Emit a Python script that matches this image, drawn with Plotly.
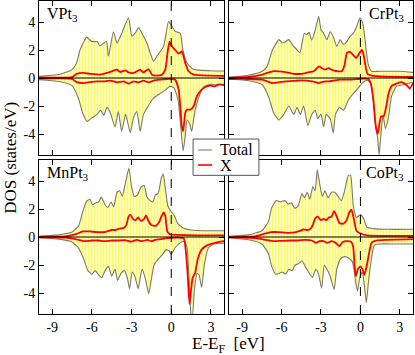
import plotly.graph_objects as go
from plotly.subplots import make_subplots

# ---- data (energy in eV, DOS in states/eV) ----
# VPt3
V_TOT_UP_E = [-10, -8.5, -7.5, -7.15, -6.9, -6.4, -6.0, -5.6, -5.4, -4.9, -4.75, -4.37, -4.1, -3.74, -3.23,
              -2.98, -2.73, -2.47, -2.22, -1.84, -1.34, -1.09, -0.58, -0.2, 0.05, 0.3, 0.68, 0.88, 1.19, 1.7, 2.95, 4]
V_TOT_UP = [0.12, 0.25, 0.6, 1.1, 2.0, 2.9, 2.6, 2.6, 2.3, 2.6, 1.55, 3.3, 2.5, 3.2, 4.3,
            3.0, 3.2, 3.6, 3.2, 2.5, 1.2, 1.55, 2.26, 4.05, 3.7, 3.33, 3.2, 2.0, 1.07, 0.6, 0.52, 0.5]
V_TOT_DN_E = [-10, -8.5, -7.5, -7.0, -6.7, -6.35, -6.0, -5.6, -5.35, -5.1, -4.85, -4.6, -4.25, -4.0, -3.75,
              -3.45, -3.1, -2.85, -2.6, -2.35, -2.1, -1.8, -1.4, -1.0, -0.5, -0.1, 0.2, 0.5, 0.7, 0.9,
              1.05, 1.2, 1.4, 1.55, 1.75, 2.1, 2.5, 3.0, 3.5, 4.0]
V_TOT_DN = [-0.12, -0.25, -0.55, -1.5, -2.5, -3.1, -2.85, -2.6, -2.3, -2.65, -2.1, -2.5, -3.5, -2.4, -3.8,
            -2.6, -3.9, -2.8, -2.4, -3.8, -2.6, -2.1, -1.5, -1.2, -0.9, -0.6, -0.7, -1.5, -3.2, -5.2,
            -4.2, -3.0, -3.3, -3.8, -2.6, -1.3, -0.6, -0.45, -0.5, -0.45]
V_X_UP_E = [-10, -7.5, -7.15, -6.64, -6.14, -5.38, -4.87, -4.37, -4.12, -3.86, -3.48, -3.23, -2.85, -2.35,
            -2.1, -1.72, -1.46, -1.09, -0.7, -0.45, -0.28, -0.13, 0.05, 0.3, 0.56, 0.8, 1.06, 1.31, 1.7, 2.95, 4]
V_X_UP = [0.05, 0.07, 0.3, 0.36, 0.3, 0.24, 0.36, 0.52, 0.6, 0.43, 0.55, 0.4, 0.36, 0.6,
          0.4, 0.64, 0.24, 0.17, 0.24, 0.6, 1.8, 2.6, 2.26, 2.0, 1.74, 1.9, 1.07, 0.48, 0.24, 0.17, 0.15]
V_X_DN_E = [-10, -7.5, -7.15, -6.64, -6.14, -5.63, -5.1, -4.6, -4.1, -3.6, -3.23, -2.85, -2.47, -2.1, -1.72,
            -1.34, -0.83, -0.33, 0.0, 0.3, 0.56, 0.68, 0.8, 0.9, 1.06, 1.19, 1.45, 1.7, 1.94, 2.3, 2.6,
            3.0, 3.3, 3.6, 4.0]
V_X_DN = [-0.05, -0.07, -0.3, -0.36, -0.29, -0.24, -0.24, -0.19, -0.31, -0.24, -0.4, -0.24, -0.31, -0.19, -0.31,
          -0.19, -0.12, -0.07, -0.07, -0.12, -0.83, -2.0, -3.45, -3.8, -2.5, -2.26, -2.26, -2.0, -1.3, -0.83, -0.64,
          -0.55, -0.6, -0.45, -0.5]

# CrPt3
CR_TOT_UP_E = [-10, -8.5, -7.47, -7.1, -6.7, -6.2, -5.95, -5.7, -5.45, -5.2, -4.82, -4.6, -4.44, -4.27, -4.1,
               -3.9, -3.7, -3.43, -3.18, -3.0, -2.8, -2.55, -2.3, -2.05, -1.8, -1.54, -1.29, -1.03, -0.78,
               -0.53, -0.28, -0.03, 0.18, 0.35, 0.6, 0.86, 1.5, 3.0, 4.0]
CR_TOT_UP = [0.05, 0.2, 0.48, 0.83, 2.0, 2.74, 2.5, 2.6, 2.74, 2.4, 2.0, 1.8, 2.5, 3.2, 3.1,
             3.26, 2.7, 3.45, 4.4, 3.45, 3.2, 2.74, 3.3, 2.9, 2.26, 2.74, 2.4, 2.6, 2.98,
             3.2, 3.7, 4.3, 3.9, 2.74, 0.95, 0.48, 0.48, 0.48, 0.4]
CR_TOT_DN_E = [-10, -8.5, -7.47, -7.0, -6.6, -6.2, -5.83, -5.45, -5.07, -4.82, -4.57, -4.32, -4.0, -3.7, -3.43,
               -3.25, -3.0, -2.8, -2.6, -2.3, -2.07, -1.9, -1.6, -1.29, -0.9, -0.53, -0.15, 0.1, 0.48, 0.78,
               0.98, 1.16, 1.31, 1.42, 1.57, 1.72, 1.9, 2.12, 2.37, 2.75, 3.13, 4.0]
CR_TOT_DN = [-0.07, -0.2, -0.48, -1.3, -2.5, -3.0, -2.6, -2.0, -2.6, -2.1, -2.6, -2.0, -3.4, -2.6, -2.3,
             -2.9, -2.6, -3.5, -2.6, -2.9, -3.93, -2.6, -2.1, -2.3, -1.55, -1.1, -0.7, -0.4, -0.15, -0.35,
             -1.55, -3.4, -4.3, -5.5, -3.9, -2.65, -3.6, -2.9, -1.3, -0.6, -0.5, -0.3]
CR_X_UP_E = [-10, -8.5, -7.47, -7.1, -6.7, -6.2, -5.6, -5.07, -4.5, -4.0, -3.56, -3.3, -3.16, -2.93, -2.68,
             -2.42, -2.2, -2.05, -1.7, -1.41, -1.2, -1.03, -0.78, -0.58, -0.33, -0.15, 0.1, 0.22, 0.35,
             0.53, 0.86, 1.5, 4.0]
CR_X_UP = [0.02, 0.07, 0.24, 0.36, 0.48, 0.48, 0.4, 0.3, 0.3, 0.4, 0.48, 0.7, 0.83, 0.7, 0.6,
           0.7, 0.6, 0.55, 0.48, 0.48, 0.95, 1.8, 1.86, 1.67, 1.43, 1.65, 2.0, 1.75, 1.07,
           0.3, 0.17, 0.12, 0.07]
CR_X_DN_E = [-10, -8.5, -7.47, -6.7, -6.2, -5.7, -5.07, -4.57, -4.07, -3.56, -3.18, -2.8, -2.42, -2.05, -1.54,
             -0.78, -0.15, 0.22, 0.6, 0.78, 0.98, 1.16, 1.31, 1.46, 1.57, 1.77, 1.97, 2.15, 2.4, 2.75, 3.13,
             3.5, 3.76, 4.0]
CR_X_DN = [-0.07, -0.07, -0.12, -0.36, -0.31, -0.24, -0.21, -0.17, -0.19, -0.26, -0.36, -0.26, -0.24, -0.19, -0.12,
           -0.12, -0.07, -0.05, -0.07, -0.36, -1.55, -3.4, -4.0, -3.2, -2.74, -2.74, -2.0, -1.07, -0.55, -0.4, -0.3,
           -0.5, -0.75, -0.36]

# MnPt3
MN_TOT_UP_E = [-10, -8.5, -7.5, -7.0, -6.7, -6.4, -6.15, -5.95, -5.7, -5.5, -5.3, -5.0, -4.8, -4.55, -4.35,
               -4.1, -3.9, -3.7, -3.5, -3.2, -3.0, -2.8, -2.55, -2.3, -2.05, -1.85, -1.6, -1.4, -1.2, -1.0,
               -0.75, -0.6, -0.45, -0.25, 0.0, 0.25, 0.5, 0.9, 1.5, 2.5, 4.0]
MN_TOT_UP = [0.05, 0.15, 0.35, 0.8, 1.8, 2.55, 2.7, 2.3, 2.45, 2.5, 2.85, 2.3, 2.1, 2.5, 2.15,
             3.2, 3.3, 2.9, 3.7, 4.9, 3.6, 2.9, 3.0, 3.55, 3.7, 2.9, 2.6, 2.5, 3.0, 3.1,
             4.2, 4.5, 3.5, 2.2, 1.8, 1.5, 0.95, 0.65, 0.5, 0.45, 0.45]
MN_TOT_DN_E = [-10, -8.5, -7.5, -7.0, -6.65, -6.3, -6.0, -5.75, -5.5, -5.25, -5.0, -4.75, -4.5, -4.25, -4.05,
               -3.8, -3.55, -3.3, -3.15, -2.95, -2.75, -2.5, -2.35, -2.2, -1.95, -1.7, -1.5, -1.3, -1.0, -0.7,
               -0.4, -0.15, 0.0, 0.3, 0.7, 1.0, 1.2, 1.35, 1.5, 1.6, 1.75, 1.95, 2.1, 2.3, 2.5, 2.8, 3.2, 4.0]
MN_TOT_DN = [-0.05, -0.15, -0.35, -0.8, -1.5, -2.4, -2.65, -2.4, -2.7, -2.9, -2.4, -2.1, -2.8, -2.3, -3.1,
             -2.6, -2.4, -3.0, -3.7, -2.5, -2.8, -3.7, -2.9, -2.3, -3.0, -4.05, -3.0, -2.0, -1.6, -1.3,
             -0.9, -1.0, -1.25, -0.75, -0.4, -0.3, -0.8, -3.0, -5.5, -5.6, -3.8, -2.6, -2.7, -3.6, -2.0, -0.8, -0.5, -0.45]
MN_X_UP_E = [-10, -8.0, -7.2, -6.7, -6.2, -5.6, -5.0, -4.5, -4.2, -3.9, -3.6, -3.4, -3.25, -3.1, -2.9,
             -2.7, -2.5, -2.3, -2.05, -1.9, -1.75, -1.5, -1.2, -0.95, -0.75, -0.58, -0.45, -0.3, -0.1, 0.5,
             2.0, 4.0]
MN_X_UP = [0.02, 0.05, 0.2, 0.4, 0.4, 0.35, 0.35, 0.5, 0.5, 0.6, 0.65, 0.85, 1.4, 1.6, 1.3,
           1.2, 1.4, 1.15, 1.3, 1.55, 1.2, 0.85, 0.8, 1.0, 1.45, 1.75, 1.5, 0.4, 0.2, 0.15,
           0.12, 0.12]
MN_X_DN_E = [-10, -8.0, -7.0, -6.5, -6.0, -5.5, -5.0, -4.5, -4.0, -3.5, -3.0, -2.6, -2.2, -1.8, -1.5,
             -1.2, -0.8, -0.3, 0.5, 0.95, 1.1, 1.25, 1.38, 1.5, 1.62, 1.8, 2.0, 2.3, 2.7, 3.2, 3.6, 4.0]
MN_X_DN = [-0.03, -0.05, -0.2, -0.3, -0.25, -0.25, -0.3, -0.25, -0.25, -0.22, -0.33, -0.2, -0.3, -0.2, -0.3,
           -0.2, -0.15, -0.08, -0.05, -0.1, -1.0, -2.8, -4.8, -3.8, -2.9, -2.6, -1.6, -0.9, -0.6, -0.45, -0.35, -0.3]

# CoPt3
CO_TOT_UP_E = [-10, -8.5, -7.5, -7.0, -6.75, -6.4, -6.1, -5.75, -5.5, -5.25, -5.0, -4.75, -4.45, -4.25, -4.05,
               -3.85, -3.62, -3.45, -3.28, -3.1, -2.9, -2.7, -2.45, -2.2, -1.95, -1.7, -1.45, -1.2, -0.92,
               -0.75, -0.55, -0.3, 0.0, 0.25, 0.5, 1.0, 2.0, 4.0]
CO_TOT_UP = [0.05, 0.15, 0.45, 1.1, 2.1, 2.6, 2.5, 2.6, 2.35, 2.45, 2.05, 2.2, 3.1, 2.8, 3.2,
             2.7, 3.6, 3.3, 4.8, 3.8, 2.9, 3.3, 2.8, 3.2, 3.2, 2.9, 2.6, 3.3, 4.4,
             4.4, 2.3, 1.4, 1.6, 1.3, 0.7, 0.6, 0.55, 0.55]
CO_TOT_DN_E = [-10, -8.5, -7.5, -7.0, -6.75, -6.45, -6.2, -5.95, -5.7, -5.45, -5.2, -4.95, -4.7, -4.45, -4.2,
               -3.95, -3.65, -3.4, -3.2, -2.95, -2.75, -2.55, -2.3, -2.0, -1.8, -1.5, -1.2, -0.9, -0.6, -0.35,
               -0.22, -0.05, 0.15, 0.3, 0.45, 0.6, 0.85, 1.05, 1.5, 2.5, 4.0]
CO_TOT_DN = [-0.05, -0.2, -0.5, -1.2, -2.1, -2.65, -2.6, -2.5, -2.65, -2.3, -2.4, -2.0, -1.9, -1.7, -2.1,
             -2.5, -2.9, -2.3, -2.6, -3.65, -2.0, -2.3, -2.8, -3.75, -2.3, -1.55, -1.4, -1.5, -1.8, -3.3,
             -3.85, -2.9, -2.5, -3.5, -4.7, -3.3, -1.5, -0.6, -0.5, -0.5, -0.5]
CO_X_UP_E = [-10, -8.0, -7.4, -6.8, -6.2, -5.5, -4.9, -4.55, -4.35, -4.1, -3.85, -3.65, -3.45, -3.25, -3.0,
             -2.8, -2.6, -2.4, -2.2, -2.0, -1.8, -1.6, -1.3, -1.05, -0.85, -0.68, -0.5, -0.3, 0.0, 0.5,
             2.0, 4.0]
CO_X_UP = [0.01, 0.05, 0.2, 0.35, 0.35, 0.3, 0.35, 0.45, 0.55, 0.5, 0.55, 0.8, 1.3, 1.45, 1.2,
           1.3, 1.2, 1.4, 1.45, 1.85, 1.45, 1.0, 0.95, 1.2, 1.75, 1.95, 1.3, 0.45, 0.25, 0.12,
           0.08, 0.08]
CO_X_DN_E = [-10, -8.0, -7.2, -6.6, -6.0, -5.4, -4.8, -4.2, -3.7, -3.4, -3.1, -2.8, -2.5, -2.2, -1.9,
             -1.6, -1.35, -1.0, -0.7, -0.55, -0.45, -0.35, -0.2, 0.0, 0.15, 0.3, 0.45, 0.65, 0.85, 1.2,
             2.0, 4.0]
CO_X_DN = [-0.03, -0.08, -0.2, -0.3, -0.27, -0.25, -0.25, -0.2, -0.25, -0.42, -0.3, -0.3, -0.42, -0.3, -0.4,
           -0.65, -0.35, -0.3, -0.35, -0.7, -2.0, -2.8, -2.3, -2.1, -2.3, -2.7, -2.2, -1.2, -0.4, -0.25,
           -0.2, -0.15]

PANELS = [
    ("VPt<sub>3</sub>", (V_TOT_UP_E, V_TOT_UP), (V_TOT_DN_E, V_TOT_DN), (V_X_UP_E, V_X_UP), (V_X_DN_E, V_X_DN)),
    ("CrPt<sub>3</sub>", (CR_TOT_UP_E, CR_TOT_UP), (CR_TOT_DN_E, CR_TOT_DN), (CR_X_UP_E, CR_X_UP), (CR_X_DN_E, CR_X_DN)),
    ("MnPt<sub>3</sub>", (MN_TOT_UP_E, MN_TOT_UP), (MN_TOT_DN_E, MN_TOT_DN), (MN_X_UP_E, MN_X_UP), (MN_X_DN_E, MN_X_DN)),
    ("CoPt<sub>3</sub>", (CO_TOT_UP_E, CO_TOT_UP), (CO_TOT_DN_E, CO_TOT_DN), (CO_X_UP_E, CO_X_UP), (CO_X_DN_E, CO_X_DN)),
]
E_TICKS = [-9, -6, -3, 0, 3]
DOS_TICKS = [-4, -2, 0, 2, 4]
LEGEND_LABELS = ["Total", "X"]

FONT = "Liberation Serif, Times New Roman, serif"
TOTAL_COLOR = "#7a7a6a"
X_COLOR = "#ff0000"

fig = make_subplots(rows=2, cols=2)
positions = [(1, 1), (1, 2), (2, 1), (2, 2)]

for i, (name, tot_up, tot_dn, x_up, x_dn) in enumerate(PANELS):
    r, c = positions[i]
    # yellow hatched area under the total DOS
    for e, d in (tot_up, tot_dn):
        fig.add_trace(go.Scatter(
            x=e, y=d, mode="lines", fill="tozeroy",
            line=dict(width=0, shape="spline", smoothing=0.5),
            fillcolor="#ffff70",
            fillpattern=dict(shape="|", bgcolor="#ffffb8", fgcolor="#f4f034", size=3, solidity=0.45),
            hoverinfo="skip"), row=r, col=c)
    # total DOS outline
    for e, d in (tot_up, tot_dn):
        fig.add_trace(go.Scatter(
            x=e, y=d, mode="lines", name="Total",
            line=dict(color=TOTAL_COLOR, width=1.1, shape="spline", smoothing=0.5)), row=r, col=c)
    # partial X DOS
    for e, d in (x_up, x_dn):
        fig.add_trace(go.Scatter(
            x=e, y=d, mode="lines", name="X",
            line=dict(color=X_COLOR, width=1.8, shape="spline", smoothing=0.5)), row=r, col=c)

    ax = "" if i == 0 else str(i + 1)
    # zero line and Fermi level
    fig.add_shape(type="line", xref=f"x{ax} domain", yref=f"y{ax}", x0=0, x1=1, y0=0, y1=0,
                  line=dict(color="black", width=1), layer="above")
    fig.add_shape(type="line", xref=f"x{ax}", yref=f"y{ax} domain", x0=0, x1=0, y0=0, y1=1,
                  line=dict(color="black", width=1, dash="dash"), layer="above")
    left = c == 1
    fig.add_annotation(text=name, xref=f"x{ax} domain", yref=f"y{ax} domain",
                       x=0.035 if left else 0.96, y=0.985,
                       xanchor="left" if left else "right", yanchor="top",
                       showarrow=False, font=dict(family=FONT, size=16, color="black"))

axis_common = dict(showline=True, linecolor="black", linewidth=1, mirror="ticks",
                   ticks="inside", ticklen=5, tickcolor="black", showgrid=False, zeroline=False,
                   tickfont=dict(family=FONT, size=14, color="black"))

x_dom = {1: [0.0, 0.495], 2: [0.508, 1.0]}
y_dom = {1: [0.508, 1.0], 2: [0.0, 0.492]}
for i in range(4):
    r, c = positions[i]
    ax = "" if i == 0 else str(i + 1)
    fig.update_layout({
        f"xaxis{ax}": dict(axis_common, range=[-10, 4], domain=x_dom[c], tickvals=E_TICKS,
                           ticktext=[str(t) for t in E_TICKS], showticklabels=(r == 2)),
        f"yaxis{ax}": dict(axis_common, range=[-5.5, 5.5], domain=y_dom[r], tickvals=DOS_TICKS,
                           ticktext=[str(t) for t in DOS_TICKS], showticklabels=(c == 1)),
    })

# legend box drawn across the four panels
fig.add_shape(type="rect", xref="paper", yref="paper", x0=0.412, x1=0.588, y0=0.443, y1=0.559,
              fillcolor="white", line=dict(color="#555555", width=1), layer="above")
for label, col, ly in zip(LEGEND_LABELS, ["#a8a8a8", X_COLOR], [0.524, 0.476]):
    fig.add_shape(type="line", xref="paper", yref="paper", x0=0.425, x1=0.463, y0=ly, y1=ly,
                  line=dict(color=col, width=1.6), layer="above")
    fig.add_annotation(text=label, xref="paper", yref="paper", x=0.479, y=ly,
                       xanchor="left", yanchor="middle", showarrow=False,
                       font=dict(family=FONT, size=16, color="black"))

fig.add_annotation(text="DOS (states/eV)", xref="paper", yref="paper", x=-0.077, y=0.5,
                   textangle=-90, showarrow=False, xanchor="center", yanchor="middle",
                   font=dict(family=FONT, size=17, color="black"))
fig.add_annotation(text="E-E<sub>F</sub>  [eV]", xref="paper", yref="paper", x=0.508, y=-0.058,
                   showarrow=False, xanchor="center", yanchor="top",
                   font=dict(family=FONT, size=17, color="black"))

fig.update_layout(
    width=415, height=355,
    margin=dict(l=39, r=2, t=1, b=41),
    paper_bgcolor="white", plot_bgcolor="white",
    showlegend=False,
)

fig.write_html("out.html", config={"displayModeBar": False},
               post_script="document.body.style.margin='0px';")
